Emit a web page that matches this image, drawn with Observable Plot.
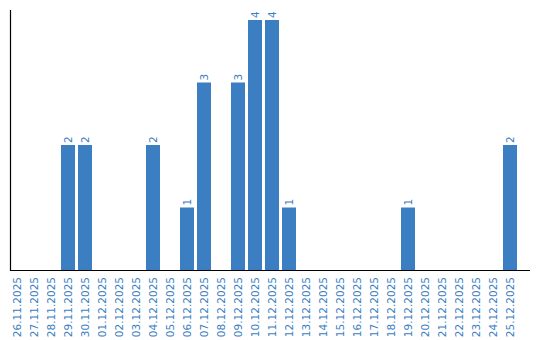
<!DOCTYPE html>
<html>
<head>
<meta charset="utf-8">
<script src="https://cdn.jsdelivr.net/npm/d3@7"></script>
<script src="https://cdn.jsdelivr.net/npm/@observablehq/plot@0.6"></script>
<style>
  html, body { margin: 0; padding: 0; background: #fff; }
</style>
</head>
<body>
<div id="chart"></div>
<script>
const dates = [
  "26.11.2025", "27.11.2025", "28.11.2025", "29.11.2025", "30.11.2025",
  "01.12.2025", "02.12.2025", "03.12.2025", "04.12.2025", "05.12.2025",
  "06.12.2025", "07.12.2025", "08.12.2025", "09.12.2025", "10.12.2025",
  "11.12.2025", "12.12.2025", "13.12.2025", "14.12.2025", "15.12.2025",
  "16.12.2025", "17.12.2025", "18.12.2025", "19.12.2025", "20.12.2025",
  "21.12.2025", "22.12.2025", "23.12.2025", "24.12.2025", "25.12.2025"
];
const counts = [
  0, 0, 0, 2, 2,
  0, 0, 0, 2, 0,
  1, 3, 0, 3, 4,
  4, 1, 0, 0, 0,
  0, 0, 0, 1, 0,
  0, 0, 0, 0, 2
];

const blue = "#3b7ec2";
const data = dates.map((d, i) => ({date: d, count: counts[i]}));

const chart = Plot.plot({
  width: 540,
  height: 340,
  marginLeft: 10,
  marginRight: 10,
  marginTop: 10,
  marginBottom: 70,
  style: {fontFamily: "DejaVu Sans", fontSize: "10.5px", background: "#fff"},
  x: {domain: dates, paddingInner: 0.176, paddingOuter: 0.38, align: 0, axis: null},
  y: {domain: [0, 4.16], axis: null},
  marks: [
    Plot.barY(data, {x: "date", y: "count", fill: blue}),
    Plot.text(data.filter(d => d.count > 0), {
      x: "date", y: "count", text: d => String(d.count),
      rotate: -90, textAnchor: "start", lineAnchor: "middle",
      dy: -2.5, fill: blue, fontSize: 10.5
    }),
    Plot.axisX({tickRotate: -90, tickSize: 0, tickPadding: 6.5, fill: blue, label: null, fontSize: 10.5}),
    Plot.ruleY([0], {stroke: "#000", strokeWidth: 1.2}),
    Plot.frame({anchor: "left", stroke: "#000", strokeWidth: 1.2})
  ]
});
document.getElementById("chart").appendChild(chart);
</script>
</body>
</html>
